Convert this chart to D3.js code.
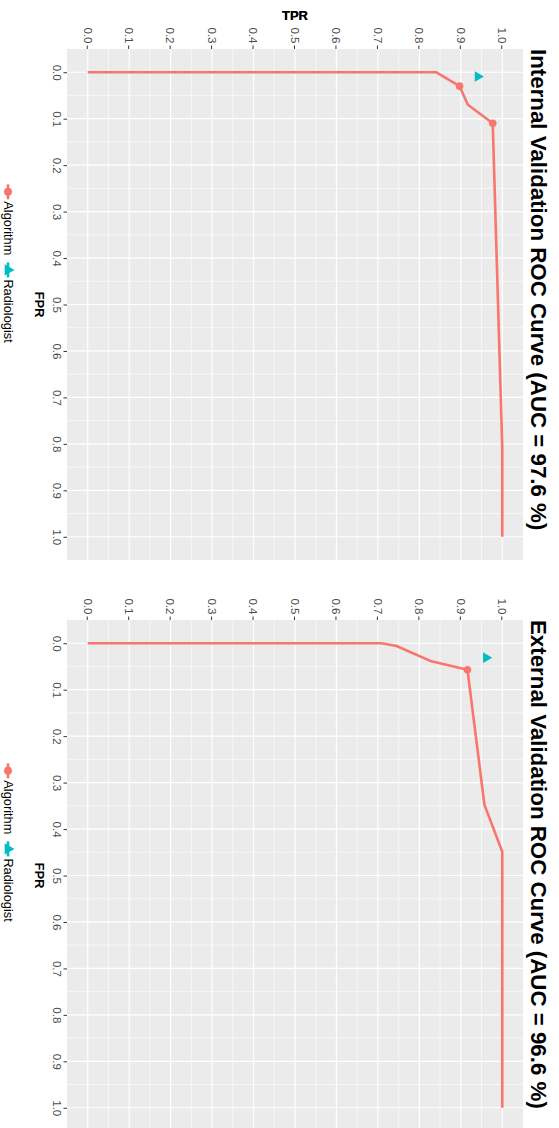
<!DOCTYPE html>
<html>
<head>
<meta charset="utf-8">
<script src="https://cdn.jsdelivr.net/npm/d3@7"></script>
<style>
  html, body { margin: 0; padding: 0; background: #ffffff; }
  svg { display: block; font-family: "Liberation Sans", Arial, sans-serif; }
</style>
</head>
<body>
<svg id="chart" width="559" height="1128"></svg>
<script>
// ROC curve data (false positive rate, true positive rate)
const internalFPR = [0, 0, 0.03, 0.07, 0.11, 0.81, 1.0];
const internalTPR = [0, 0.84, 0.897, 0.917, 0.977, 1.0, 1.0];
const internalMarkFPR = [0.03, 0.11];
const internalMarkTPR = [0.897, 0.977];
const internalRadFPR = [0.009];
const internalRadTPR = [0.941];

const externalFPR = [0, 0, 0.006, 0.039, 0.057, 0.348, 0.449, 1.0];
const externalTPR = [0, 0.709, 0.745, 0.829, 0.916, 0.957, 1.0, 1.0];
const externalMarkFPR = [0.057];
const externalMarkTPR = [0.916];
const externalRadFPR = [0.031];
const externalRadTPR = [0.961];

const tickValues = [0, 0.1, 0.2, 0.3, 0.4, 0.5, 0.6, 0.7, 0.8, 0.9, 1.0];
const minorValues = [0.05, 0.15, 0.25, 0.35, 0.45, 0.55, 0.65, 0.75, 0.85, 0.95];
const seriesNames = ["Algorithm", "Radiologist"];
const seriesColors = ["#F8766D", "#00BFC4"];

const titles = [
  "Internal Validation ROC Curve (AUC = 97.6 %)",
  "External Validation ROC Curve (AUC = 96.6 %)"
];

const svg = d3.select("#chart");
// The figure is laid out landscape and turned a quarter turn clockwise.
const root = svg.append("g").attr("transform", "translate(559,0) rotate(90)");

const panelTop = 36, panelBottom = 492;
const y = d3.scaleLinear().domain([-0.05, 1.05]).range([panelBottom, panelTop]);

const panels = [
  { left: 49, right: 560, legendCenter: 263.5, title: titles[0],
    fpr: internalFPR, tpr: internalTPR, mf: internalMarkFPR, mt: internalMarkTPR,
    rf: internalRadFPR, rt: internalRadTPR },
  { left: 620, right: 1131, legendCenter: 842.5, title: titles[1],
    fpr: externalFPR, tpr: externalTPR, mf: externalMarkFPR, mt: externalMarkTPR,
    rf: externalRadFPR, rt: externalRadTPR }
];

const fmt = d3.format(".1f");

panels.forEach(p => {
  const g = root.append("g");
  const x = d3.scaleLinear().domain([-0.05, 1.05]).range([p.left, p.right]);

  // panel background
  g.append("rect")
    .attr("x", p.left).attr("y", panelTop)
    .attr("width", p.right - p.left).attr("height", panelBottom - panelTop)
    .attr("fill", "#EBEBEB");

  // minor grid
  g.selectAll(".vminor").data(minorValues).join("line")
    .attr("x1", d => x(d)).attr("x2", d => x(d))
    .attr("y1", panelTop).attr("y2", panelBottom)
    .attr("stroke", "#ffffff").attr("stroke-width", 0.6);
  g.selectAll(".hminor").data(minorValues).join("line")
    .attr("y1", d => y(d)).attr("y2", d => y(d))
    .attr("x1", p.left).attr("x2", p.right)
    .attr("stroke", "#ffffff").attr("stroke-width", 0.6);
  // major grid
  g.selectAll(".vmajor").data(tickValues).join("line")
    .attr("x1", d => x(d)).attr("x2", d => x(d))
    .attr("y1", panelTop).attr("y2", panelBottom)
    .attr("stroke", "#ffffff").attr("stroke-width", 1.2);
  g.selectAll(".hmajor").data(tickValues).join("line")
    .attr("y1", d => y(d)).attr("y2", d => y(d))
    .attr("x1", p.left).attr("x2", p.right)
    .attr("stroke", "#ffffff").attr("stroke-width", 1.2);

  // axes
  const xAxis = g.append("g")
    .attr("transform", `translate(0,${panelBottom})`)
    .call(d3.axisBottom(x).tickValues(tickValues).tickFormat(fmt).tickSize(3.5).tickPadding(2.5));
  const yAxis = g.append("g")
    .attr("transform", `translate(${p.left},0)`)
    .call(d3.axisLeft(y).tickValues(tickValues).tickFormat(fmt).tickSize(3.5).tickPadding(2));
  [xAxis, yAxis].forEach(a => {
    a.select(".domain").remove();
    a.selectAll(".tick line").attr("stroke", "#333333").attr("stroke-width", 1);
    a.selectAll(".tick text")
      .attr("fill", "#4D4D4D")
      .style("font-size", "11.5px")
      .style("font-family", "'Liberation Sans', Arial, sans-serif");
  });

  // axis titles
  g.append("text")
    .attr("x", (p.left + p.right) / 2).attr("y", 524)
    .attr("text-anchor", "middle")
    .style("font-size", "13px").style("font-weight", "bold")
    .text("FPR");
  g.append("text")
    .attr("transform", `translate(19.5,${(panelTop + panelBottom) / 2}) rotate(-90)`)
    .attr("text-anchor", "middle")
    .style("font-size", "13px").style("font-weight", "bold")
    .text("TPR");

  // plot title
  g.append("text")
    .attr("x", p.left).attr("y", 28.5)
    .style("font-size", "22.3px").style("font-weight", "bold")
    .text(p.title);

  // algorithm curve
  const pts = p.fpr.map((f, i) => [f, p.tpr[i]]);
  const line = d3.line().x(d => x(d[0])).y(d => y(d[1]));
  g.append("path")
    .datum(pts)
    .attr("d", line)
    .attr("fill", "none")
    .attr("stroke", seriesColors[0])
    .attr("stroke-width", 2.6)
    .attr("stroke-linejoin", "round");

  const marks = p.mf.map((f, i) => [f, p.mt[i]]);
  g.selectAll(".mark").data(marks).join("circle")
    .attr("cx", d => x(d[0])).attr("cy", d => y(d[1]))
    .attr("r", 3.8).attr("fill", seriesColors[0]);

  // radiologist operating point
  const rad = p.rf.map((f, i) => [f, p.rt[i]]);
  g.selectAll(".rad").data(rad).join("path")
    .attr("transform", d => `translate(${x(d[0])},${y(d[1])})`)
    .attr("d", d3.symbol(d3.symbolTriangle, 48)())
    .attr("fill", seriesColors[1]);

  // legend
  const legend = g.append("g");
  const ly = 551;
  const keyW = 15, gap = 2, itemGap = 7;
  const labels = seriesNames.map(n => legend.append("text")
    .attr("y", ly + 4.5)
    .style("font-size", "12.8px").attr("fill", "#000000")
    .text(n));
  const labelW = labels.map(t => t.node().getComputedTextLength());
  const total = keyW * 2 + gap * 2 + labelW[0] + labelW[1] + itemGap;
  let cx = p.legendCenter - total / 2;
  seriesNames.forEach((n, i) => {
    const kg = legend.append("g").attr("transform", `translate(${cx},${ly})`);
    kg.append("line")
      .attr("x1", 0).attr("x2", keyW).attr("y1", 0).attr("y2", 0)
      .attr("stroke", seriesColors[i]).attr("stroke-width", 2.6);
    if (i === 0) {
      kg.append("circle").attr("cx", keyW / 2).attr("cy", 0).attr("r", 4)
        .attr("fill", seriesColors[i]);
    } else {
      kg.append("path").attr("transform", `translate(${keyW / 2},0)`)
        .attr("d", d3.symbol(d3.symbolTriangle, 56)())
        .attr("fill", seriesColors[i]);
    }
    labels[i].attr("x", cx + keyW + gap);
    cx += keyW + gap + labelW[i] + itemGap;
  });
});
</script>
</body>
</html>
